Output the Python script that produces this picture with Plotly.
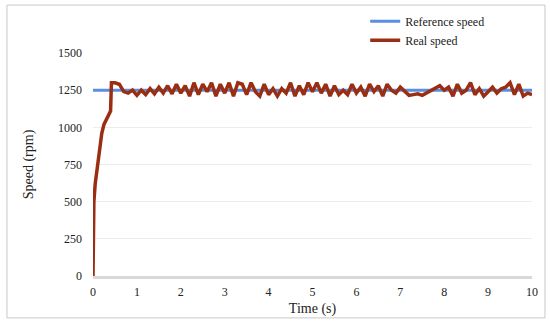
import plotly.graph_objects as go

time_s = [0, 0.02, 0.05, 0.1, 0.15, 0.2, 0.25, 0.3, 0.38, 0.4, 0.42,
          0.5, 0.6, 0.7, 0.8, 0.9, 1.0, 1.1, 1.2, 1.3, 1.4, 1.5, 1.6, 1.7, 1.8, 1.9,
          2.0, 2.1, 2.2, 2.3, 2.4, 2.5, 2.6, 2.7, 2.8, 2.9,
          3.0, 3.1, 3.2, 3.3, 3.4, 3.5, 3.6, 3.7, 3.8, 3.9,
          4.0, 4.1, 4.2, 4.3, 4.4, 4.5, 4.6, 4.7, 4.8, 4.9,
          5.0, 5.1, 5.2, 5.3, 5.4, 5.5, 5.6, 5.7, 5.8, 5.9,
          6.0, 6.1, 6.2, 6.3, 6.4, 6.5, 6.6, 6.7, 6.8, 6.9,
          7.0, 7.1, 7.2, 7.3, 7.4, 7.5, 7.6, 7.7, 7.8, 7.9,
          8.0, 8.1, 8.2, 8.3, 8.4, 8.5, 8.6, 8.7, 8.8, 8.9,
          9.0, 9.1, 9.2, 9.3, 9.4, 9.5, 9.6, 9.7, 9.8, 9.9, 10.0]

real_speed = [0, 500, 620, 740, 850, 960, 1020, 1050, 1100, 1110, 1300,
              1300, 1290, 1240, 1230, 1250, 1215, 1250, 1220, 1260, 1225, 1270, 1230, 1280, 1225, 1290,
              1230, 1280, 1210, 1300, 1220, 1290, 1240, 1300, 1210, 1290,
              1230, 1300, 1210, 1300, 1290, 1220, 1300, 1240, 1210, 1290,
              1220, 1260, 1210, 1260, 1230, 1300, 1210, 1280, 1220, 1300,
              1240, 1300, 1230, 1290, 1210, 1280, 1220, 1250, 1220, 1290,
              1230, 1270, 1210, 1290, 1240, 1280, 1210, 1290, 1250, 1230,
              1270, 1240, 1215, 1220, 1225, 1215, 1230, 1250, 1260, 1280,
              1250, 1270, 1210, 1290, 1230, 1250, 1300, 1220, 1260, 1210,
              1240, 1270, 1230, 1260, 1270, 1300, 1220, 1290, 1210, 1230, 1220]

ref_time = [0, 10]
ref_speed = [1250, 1250]

y_ticks = [0, 250, 500, 750, 1000, 1250, 1500]
x_ticks = [0, 1, 2, 3, 4, 5, 6, 7, 8, 9, 10]

font_family = "Liberation Serif, Times New Roman, serif"

fig = go.Figure()
fig.add_trace(go.Scatter(x=ref_time, y=ref_speed, mode="lines", name="Reference speed",
                         line=dict(color="#5b8ee0", width=3)))
fig.add_trace(go.Scatter(x=time_s, y=real_speed, mode="lines", name="Real speed",
                         line=dict(color="#9a2e12", width=3.5)))

fig.update_layout(
    width=550, height=325,
    margin=dict(l=93, r=18, t=53, b=49, autoexpand=False),
    paper_bgcolor="white", plot_bgcolor="white",
    font=dict(family=font_family, size=12, color="#222222"),
    showlegend=True,
    legend=dict(xref="container", yref="container", x=0.664, y=0.979,
                xanchor="left", yanchor="top",
                bgcolor="rgba(0,0,0,0)", font=dict(size=12, family=font_family),
                tracegroupgap=0, itemwidth=30),
    xaxis=dict(range=[0, 10], tickvals=x_ticks, showgrid=False, zeroline=False,
               showline=True, linecolor="#d9d9d9", linewidth=3,
               ticks="", ticklabelstandoff=3, automargin=False,
               title=dict(text="Time (s)", standoff=5)),
    yaxis=dict(range=[0, 1500], tickvals=y_ticks, showgrid=True, gridcolor="#ececec",
               gridwidth=1, zeroline=False, showline=False, ticks="",
               ticklabelstandoff=10, automargin=False,
               title=dict(text="Speed (rpm)", standoff=21)),
    shapes=[dict(type="rect", xref="paper", yref="paper",
                 x0=-0.196, x1=1.0296, y0=-0.188, y1=1.215,
                 line=dict(color="#c8c8c8", width=1), fillcolor="rgba(0,0,0,0)", layer="below")]
)

fig.write_html("out.html", config={"displayModeBar": False},
               post_script="document.body.style.margin='0';")
